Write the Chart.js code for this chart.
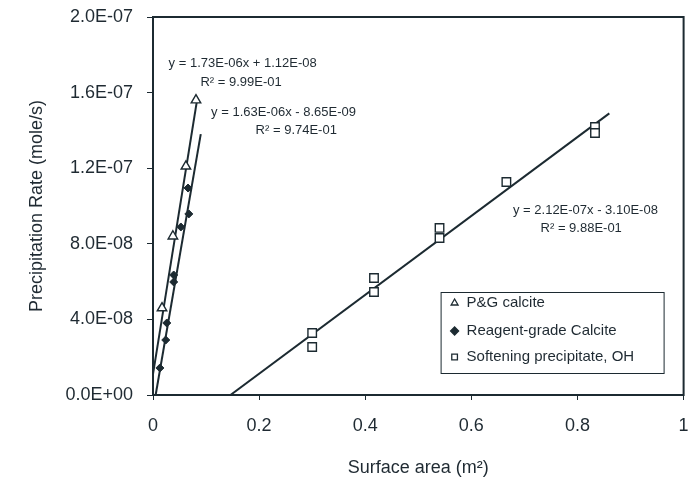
<!DOCTYPE html>
<html>
<head>
<meta charset="utf-8">
<script src="https://cdn.jsdelivr.net/npm/chart.js@4.4.0/dist/chart.umd.min.js"></script>
<style>
  html, body { margin: 0; padding: 0; background: #fff; }
  #wrap { width: 691px; height: 482px; }
</style>
</head>
<body>
<div id="wrap"><canvas id="myChart"></canvas></div>
<script>
// values
const pgX = [0.017, 0.0375, 0.062, 0.081];
const pgY = [4.6e-8, 8.4e-8, 1.21e-7, 1.56e-7];

const rgX = [0.013, 0.024, 0.026, 0.039, 0.039, 0.0525, 0.0675, 0.066];
const rgY = [1.43e-8, 2.91e-8, 3.81e-8, 5.98e-8, 6.35e-8, 8.89e-8, 9.58e-8, 1.095e-7];

const spX = [0.3, 0.3, 0.4165, 0.4165, 0.54, 0.54, 0.666, 0.833, 0.833];
const spY = [3.28e-8, 2.54e-8, 6.19e-8, 5.45e-8, 8.84e-8, 8.31e-8, 1.127e-7, 1.418e-7, 1.386e-7];

// trend line end points
const pgFitX = [0, 0.083];
const pgFitY = [1.1e-8, 1.56e-7];
const rgFitX = [0.005, 0.09];
const rgFitY = [0, 1.38e-7];
const spFitX = [0.146, 0.86];
const spFitY = [0, 1.49e-7];

const seriesNames = ["P&G calcite", "Reagent-grade Calcite", "Softening precipitate, OH"];

const xTicks = [0, 0.2, 0.4, 0.6, 0.8, 1];
const xTickLabels = ["0", "0.2", "0.4", "0.6", "0.8", "1"];
const yTicks = [0, 4e-8, 8e-8, 1.2e-7, 1.6e-7, 2e-7];
const yTickLabels = ["0.0E+00", "4.0E-08", "8.0E-08", "1.2E-07", "1.6E-07", "2.0E-07"];

const fitText = [
  ["y = 1.73E-06x + 1.12E-08", "R² = 9.99E-01"],
  ["y = 1.63E-06x - 8.65E-09", "R² = 9.74E-01"],
  ["y = 2.12E-07x - 3.10E-08", "R² = 9.88E-01"],
];

const dark = "#1c2a31";
const textCol = "#1f2a32";

function pts(xs, ys) {
  return xs.map(function (x, i) { return { x: x, y: ys[i] }; });
}

// where the equation labels sit, in data units (centre of each text line)
const fitPos = [
  [[0.169, 1.757e-7], [0.166, 1.656e-7]],
  [[0.246, 1.497e-7], [0.27, 1.402e-7]],
  [[0.815, 9.79e-8], [0.807, 8.84e-8]],
];

const framePlugin = {
  id: "frame",
  afterDatasetsDraw(chart) {
    const a = chart.chartArea;
    const ctx = chart.ctx;
    ctx.save();
    ctx.strokeStyle = dark;
    ctx.lineWidth = 2;
    ctx.strokeRect(a.left, a.top, a.right - a.left, a.bottom - a.top);
    ctx.restore();
  },
};

const fitLabels = {
  id: "fitLabels",
  afterDatasetsDraw(chart) {
    const ctx = chart.ctx;
    const xs = chart.scales.x, ys = chart.scales.y;
    ctx.save();
    ctx.fillStyle = textCol;
    ctx.font = "13px 'Liberation Sans', Arial, sans-serif";
    ctx.textAlign = "center";
    ctx.textBaseline = "middle";
    fitText.forEach(function (lines, i) {
      lines.forEach(function (t, j) {
        const p = fitPos[i][j];
        ctx.fillText(t, xs.getPixelForValue(p[0]), ys.getPixelForValue(p[1]));
      });
    });
    ctx.restore();
  },
};

const legendBox = {
  id: "legendBox",
  afterDraw(chart) {
    const ctx = chart.ctx;
    const a = chart.chartArea;
    const left = a.right - 243, top = a.bottom - 103, w = 223, h = 81;
    ctx.save();
    ctx.fillStyle = "#fff";
    ctx.fillRect(left, top, w, h);
    ctx.strokeStyle = dark;
    ctx.lineWidth = 1;
    ctx.strokeRect(left + 0.5, top + 0.5, w, h);
    ctx.font = "15px 'Liberation Sans', Arial, sans-serif";
    ctx.textBaseline = "middle";
    ctx.textAlign = "left";
    const rows = [11, 39, 65];
    [0, 1, 2].forEach(function (i) {
      const ds = chart.data.datasets[i];
      const y = top + rows[i];
      ctx.fillStyle = ds.backgroundColor;
      ctx.strokeStyle = ds.borderColor;
      ctx.lineWidth = 1.3;
      Chart.helpers.drawPoint(ctx, { pointStyle: ds.pointStyle, radius: 4, rotation: 0, borderWidth: 1.3 }, left + 14, y);
      ctx.fillStyle = textCol;
      ctx.fillText(seriesNames[i], left + 26, y);
    });
    ctx.restore();
  },
};

function fixTicks(values) {
  return function (scale) {
    scale.ticks = values.map(function (v) { return { value: v }; });
  };
}

const ctx = document.getElementById("myChart").getContext("2d");
const myChart = new Chart(ctx, {
  type: "scatter",
  data: {
    datasets: [
      {
        label: seriesNames[0],
        data: pts(pgX, pgY),
        pointStyle: "triangle",
        pointRadius: 5.5,
        borderColor: dark,
        backgroundColor: "#fff",
        pointBorderWidth: 1.4,
        order: 1,
      },
      {
        label: seriesNames[1],
        data: pts(rgX, rgY),
        pointStyle: "rectRot",
        pointRadius: 4,
        borderColor: dark,
        backgroundColor: dark,
        pointBorderWidth: 1,
        order: 1,
      },
      {
        label: seriesNames[2],
        data: pts(spX, spY),
        pointStyle: "rect",
        pointRadius: 6,
        borderColor: dark,
        backgroundColor: "#fff",
        pointBorderWidth: 1.4,
        order: 1,
      },
      { data: pts(pgFitX, pgFitY), showLine: true, pointRadius: 0, borderColor: dark, borderWidth: 2, order: 2 },
      { data: pts(rgFitX, rgFitY), showLine: true, pointRadius: 0, borderColor: dark, borderWidth: 2, order: 2 },
      { data: pts(spFitX, spFitY), showLine: true, pointRadius: 0, borderColor: dark, borderWidth: 2, order: 2 },
    ],
  },
  options: {
    responsive: true,
    maintainAspectRatio: false,
    animation: false,
    layout: { padding: { left: 0, right: 3, top: 17, bottom: 0 } },
    plugins: {
      legend: { display: false },
      tooltip: { enabled: false },
    },
    scales: {
      x: {
        type: "linear",
        min: 0,
        max: 1,
        afterBuildTicks: fixTicks(xTicks),
        afterFit: function (scale) {
          scale.height = 87;
          scale.paddingLeft = 0;
          scale.paddingRight = 0;
        },
        grid: { drawOnChartArea: false, drawTicks: true, tickLength: 5, color: dark },
        border: { display: true, color: dark, width: 2 },
        ticks: {
          padding: 15,
          color: textCol,
          font: { family: "'Liberation Sans', Arial, sans-serif", size: 18 },
          callback: function (v, i) { return xTickLabels[i]; },
        },
        title: {
          display: true,
          text: "Surface area (m²)",
          color: textCol,
          font: { family: "'Liberation Sans', Arial, sans-serif", size: 18 },
          padding: { top: 0, bottom: 3 },
        },
      },
      y: {
        type: "linear",
        min: 0,
        max: 2e-7,
        afterBuildTicks: fixTicks(yTicks),
        afterFit: function (scale) {
          scale.width = 153;
          scale.paddingTop = 0;
          scale.paddingBottom = 0;
        },
        grid: { drawOnChartArea: false, drawTicks: true, tickLength: 6, color: dark },
        border: { display: true, color: dark, width: 2 },
        ticks: {
          padding: 14,
          color: textCol,
          font: { family: "'Liberation Sans', Arial, sans-serif", size: 18 },
          callback: function (v, i) { return yTickLabels[i]; },
        },
        title: {
          display: true,
          text: "Precipitation Rate (mole/s)",
          color: textCol,
          font: { family: "'Liberation Sans', Arial, sans-serif", size: 18 },
          padding: { top: 26, bottom: 0 },
        },
      },
    },
  },
  plugins: [framePlugin, fitLabels, legendBox],
});
</script>
</body>
</html>
